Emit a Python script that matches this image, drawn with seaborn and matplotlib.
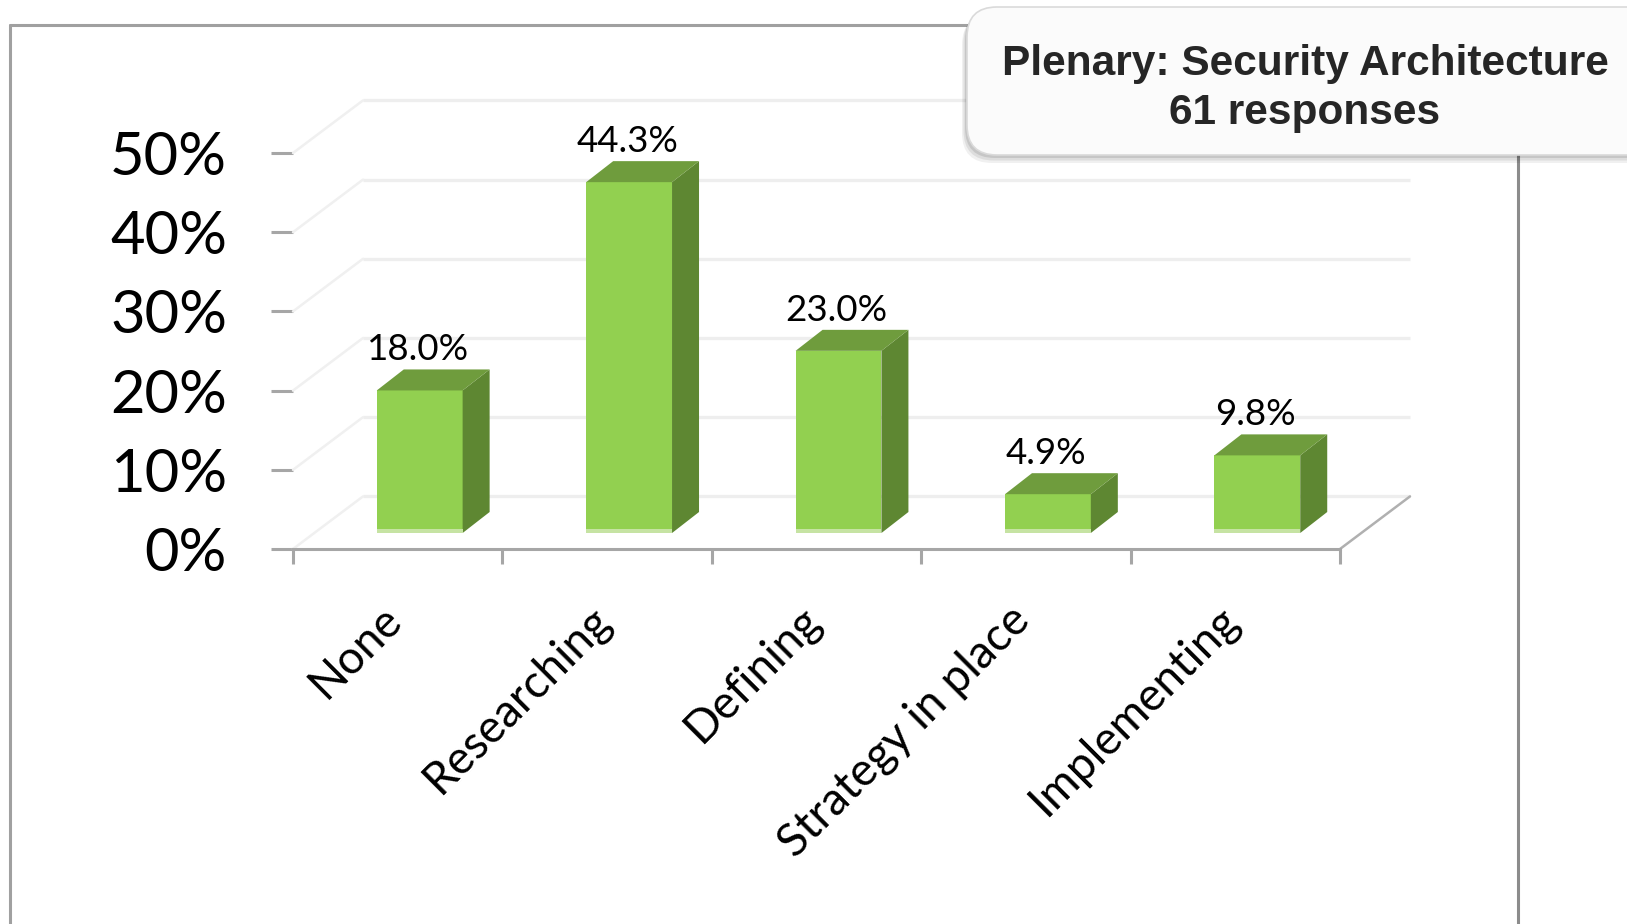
import numpy as np
import matplotlib
matplotlib.use("Agg")
import matplotlib.pyplot as plt
import seaborn as sns
from matplotlib.patches import Polygon, Rectangle, FancyBboxPatch
from matplotlib.lines import Line2D
from matplotlib.transforms import ScaledTranslation

# ---------------- data ----------------
categories = ["None", "Researching", "Defining", "Strategy in place", "Implementing"]
values = [18.0, 44.3, 23.0, 4.9, 9.8]
value_labels = ["18.0%", "44.3%", "23.0%", "4.9%", "9.8%"]
y_ticks = [0, 10, 20, 30, 40, 50]
y_tick_labels = ["0%", "10%", "20%", "30%", "40%", "50%"]
title_lines = ["Plenary: Security Architecture", "61 responses"]

# ---------------- style ----------------
sns.set_theme(style="white")
plt.rcParams["font.family"] = ["Lato", "DejaVu Sans"]

FRONT = "#92D050"
TOP = "#6F9C3D"
SIDE = "#5E8732"
STRIP = "#C6E3A3"
AXIS = "#A6A6A6"
GRID = "#EEEEEE"

W, H, DPI = 1627, 924, 100
fig = plt.figure(figsize=(W / DPI, H / DPI), dpi=DPI)
fig.patch.set_facecolor("white")

ax_l, ax_r, ax_b, ax_t = 293, 1340, 549, 153
ax = fig.add_axes([ax_l / W, 1 - ax_b / H, (ax_r - ax_l) / W, (ax_b - ax_t) / H])
ax.set_facecolor("none")

sns.barplot(x=categories, y=values, color=FRONT, width=0.41, saturation=1,
            linewidth=0, ax=ax, zorder=3)
ax.set_xlim(-0.5, len(categories) - 0.5)
ax.set_ylim(0, 50)

# pixel -> data conversion for pseudo-3D depth
ppx = (ax_r - ax_l) / len(categories)
ppy = (ax_b - ax_t) / 50.0
fdx, fdy = 22 / ppx, 16 / ppy      # bar front plane offset
ddx, ddy = 27 / ppx, 21 / ppy      # bar depth
wdx, wdy = 70 / ppx, 52.6 / ppy    # back wall offset

x_lo, x_hi = -0.5, len(categories) - 0.5

# back wall grid lines and side diagonals
for k in y_ticks:
    ax.plot([x_lo + wdx, x_hi + wdx], [k + wdy, k + wdy], color=GRID, lw=2.4,
            zorder=1, clip_on=False, solid_capstyle="butt")
    ax.plot([x_lo, x_lo + wdx], [k, k + wdy], color="#F0F0F0", lw=1.8,
            zorder=1, clip_on=False)
# floor right edge
ax.plot([x_hi, x_hi + wdx], [0, wdy], color="#B0B0B0", lw=1.8, zorder=1, clip_on=False)

# 3D bars
bars = [p for p in ax.patches]
for p, v, lab in zip(bars, values, value_labels):
    x0 = p.get_x() + fdx
    w = p.get_width()
    x1 = x0 + w
    p.set_x(x0)
    p.set_y(fdy)
    p.set_clip_on(False)
    side = Polygon([(x1, fdy), (x1, fdy + v), (x1 + ddx, fdy + v + ddy), (x1 + ddx, fdy + ddy)],
                   closed=True, fc=SIDE, ec="none", zorder=3, clip_on=False)
    top = Polygon([(x0, fdy + v), (x1, fdy + v), (x1 + ddx, fdy + v + ddy), (x0 + ddx, fdy + v + ddy)],
                  closed=True, fc=TOP, ec="none", zorder=3, clip_on=False)
    strip = Rectangle((x0, fdy), w, 4 / ppy, fc=STRIP, ec="none", zorder=4, clip_on=False)
    ax.add_patch(side)
    ax.add_patch(top)
    ax.add_patch(strip)
    ax.text(x0 + w / 2 - 2 / ppx, fdy + v + 30 / ppy, lab, ha="center", va="baseline",
            fontsize=26.5, color="black", zorder=5, clip_on=False)

# axes, ticks
for s in ["left", "top", "right"]:
    ax.spines[s].set_visible(False)
ax.spines["bottom"].set_color(AXIS)
ax.spines["bottom"].set_linewidth(2.2)
ax.spines["bottom"].set_zorder(2)

ax.set_yticks(y_ticks)
ax.set_yticklabels(y_tick_labels)
ax.tick_params(axis="y", which="major", left=True, length=15.8, width=2.2, color=AXIS,
               pad=31.7, labelsize=43, labelcolor="black", direction="out")

ax.set_xticks(range(len(categories)))
ax.set_xticklabels(categories, rotation=45, ha="right", rotation_mode="anchor",
                   va="center", fontsize=33)
ax.set_xticks(np.arange(x_lo, x_hi + 0.01, 1.0), minor=True)
ax.tick_params(axis="x", which="major", bottom=True, length=0, pad=46, labelcolor="black")
ax.tick_params(axis="x", which="minor", bottom=True, length=10.8, width=2.2, color=AXIS,
               direction="out")
shift = ScaledTranslation(-3 / DPI, 0, fig.dpi_scale_trans)
for lbl in ax.get_xticklabels():
    lbl.set_transform(lbl.get_transform() + shift)
ax.set_xlabel("")
ax.set_ylabel("")
ax.grid(False)

# outer frame
fig.add_artist(Line2D([10 / W, 10 / W], [0, 1 - 25 / H], transform=fig.transFigure,
                      color="#A0A0A0", lw=2.2, zorder=4))
fig.add_artist(Line2D([10 / W, 985 / W], [1 - 25 / H, 1 - 25 / H], transform=fig.transFigure,
                      color="#A0A0A0", lw=2.2, zorder=4))
fig.add_artist(Line2D([1518 / W, 1518 / W], [0, 1 - 150 / H], transform=fig.transFigure,
                      color="#8C8C8C", lw=2.2, zorder=4))

# title box with soft shadow
bx, by, bw, bh = 9.67, (H - 155) / DPI, 7.2, 1.48
for off, a in [((-0.05, -0.08), 0.06), ((-0.035, -0.055), 0.08), ((-0.02, -0.03), 0.10)]:
    fig.add_artist(FancyBboxPatch((bx + off[0], by + off[1]), bw, bh,
                                  boxstyle="round,pad=0,rounding_size=0.3",
                                  fc="black", ec="none", alpha=a,
                                  transform=fig.dpi_scale_trans, zorder=5))
fig.add_artist(FancyBboxPatch((bx, by), bw, bh, boxstyle="round,pad=0,rounding_size=0.3",
                              fc="#FBFBFB", ec="#DADADA", lw=1.2,
                              transform=fig.dpi_scale_trans, zorder=6))
fig.text(13.05, (H - 75) / DPI, title_lines[0], transform=fig.dpi_scale_trans,
         ha="center", va="baseline", fontsize=30.5, fontweight="bold",
         family=["Liberation Sans", "DejaVu Sans"], color="#262626", zorder=7)
fig.text(13.05, (H - 124) / DPI, title_lines[1], transform=fig.dpi_scale_trans,
         ha="center", va="baseline", fontsize=30.5, fontweight="bold",
         family=["Liberation Sans", "DejaVu Sans"], color="#262626", zorder=7)

fig.savefig("out.png", dpi=DPI, facecolor="white")
